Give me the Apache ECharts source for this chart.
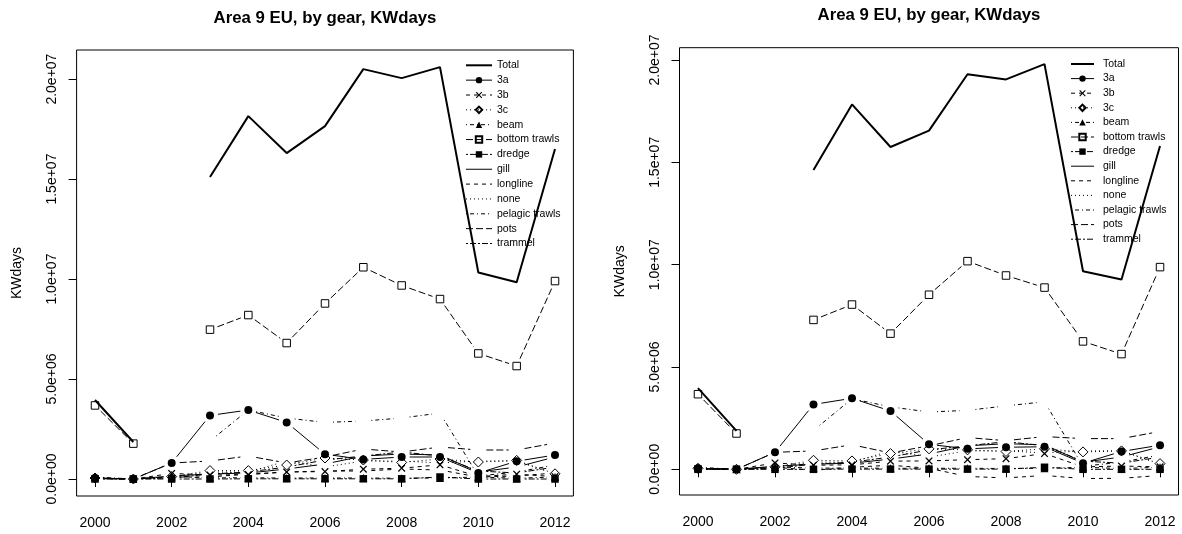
<!DOCTYPE html>
<html><head><meta charset="utf-8">
<script src="https://cdn.jsdelivr.net/npm/echarts@6/dist/echarts.min.js"></script>
<style>html,body{margin:0;padding:0;background:#fff}#c{width:1182px;height:534px}</style>
</head><body><div id="c"></div>
<script>
// ---------------- data ----------------
const years = [2000, 2001, 2002, 2003, 2004, 2005, 2006, 2007, 2008, 2009, 2010, 2011, 2012];
const seriesNames = ["Total", "3a", "3b", "3c", "beam", "bottom trawls", "dredge", "gill", "longline", "none", "pelagic trawls", "pots", "trammel"];
const xTicks = [2000, 2002, 2004, 2006, 2008, 2010, 2012];
const yTicks = [0, 5e6, 1e7, 1.5e7, 2e7];
const yTickLabels = ["0.0e+00", "5.0e+06", "1.0e+07", "1.5e+07", "2.0e+07"];
const titleText = "Area 9 EU, by gear, KWdays";
const yAxisTitle = "KWdays";

// left panel
const L_total    = [3.95e6, 1.85e6, null, 1.51e7, 1.815e7, 1.63e7, 1.765e7, 2.05e7, 2.005e7, 2.06e7, 1.033e7, 9.84e6, 1.65e7];
const L_3a       = [5e4, 0, 8.0e5, 3.18e6, 3.45e6, 2.83e6, 1.24e6, 9.8e5, 1.1e6, 1.1e6, 3.0e5, 8.9e5, 1.2e6];
const L_3b       = [3e4, 0, 2.8e5, 2.0e5, 2.2e5, 3.5e5, 3.7e5, 4.9e5, 5.4e5, 7.1e5, 1.2e5, 2.4e5, 1.2e5];
const L_3c       = [5e4, 0, 1.2e5, 4.2e5, 4.2e5, 7.0e5, 1.05e6, 9.5e5, 8.3e5, 1.0e6, 8.5e5, 9.3e5, 2.6e5];
const L_beam     = [1.0e5, 0, 1.2e5, 6e4, 6e4, 5e4, 5e4, 5e4, 4e4, 5e4, 1.0e5, 4e4, 1.0e5];
const L_bottom   = [3.68e6, 1.77e6, null, 7.47e6, 8.2e6, 6.8e6, 8.78e6, 1.059e7, 9.68e6, 9.0e6, 6.28e6, 5.65e6, 9.9e6];
const L_dredge   = [0, 0, 0, 0, 1e4, 1e4, 1e4, 1e4, 1e4, 1.0e5, 0, 0, 0];
const L_gill     = [2e4, 0, 1.5e5, 2.5e5, 3.0e5, 5.0e5, 7.5e5, 1.15e6, 1.25e6, 1.2e6, 3.5e5, 6.0e5, 1.1e6];
const L_longline = [3e4, 0, 1.0e5, 1.0e5, 2.5e5, 3.5e5, 4.0e5, 4.0e5, 5.0e5, 4.5e5, 1.0e5, 1.5e5, 3.0e5];
const L_none     = [5e4, 0, 1.0e5, 3.5e5, 3.5e5, 9.0e5, 6.0e5, 9.0e5, 9.0e5, 8.0e5, 9.0e5, 9.0e5, 2.5e5];
const L_pelagic  = [null, null, null, 1.9e6, 3.45e6, 3.05e6, 2.83e6, 2.9e6, 3.05e6, 3.3e6, 1.5e5, 3.5e5, 7.0e5];
const L_pots     = [5e4, 0, 8.0e5, 9.0e5, 1.15e6, 8.0e5, 1.1e6, 1.5e6, 1.35e6, 1.6e6, 1.45e6, 1.45e6, 1.8e6];
const L_trammel  = [5e4, 0, 5e4, 2.5e5, 3.5e5, 6.0e5, 9.5e5, 1.15e6, 1.35e6, 1.15e6, 4.0e5, 3.0e5, 6.0e5];

// right panel
const R_total    = [3.97e6, 1.88e6, null, 1.463e7, 1.783e7, 1.575e7, 1.655e7, 1.93e7, 1.905e7, 1.98e7, 9.68e6, 9.27e6, 1.58e7];
const R_3a       = [5e4, 0, 8.3e5, 3.17e6, 3.47e6, 2.85e6, 1.22e6, 1.0e6, 1.08e6, 1.1e6, 3.0e5, 8.7e5, 1.18e6];
const R_3b       = [3e4, 0, 3.1e5, 2.0e5, 2.2e5, 4.0e5, 4.1e5, 4.7e5, 5.2e5, 7.7e5, 1.2e5, 1.6e5, 1.2e5];
const R_3c       = [5e4, 0, 1.2e5, 4.4e5, 4.1e5, 7.7e5, 1.0e6, 9.5e5, 8.7e5, 1.0e6, 8.5e5, 9.0e5, 2.8e5];
const R_beam     = [1.0e5, 0, 1.2e5, 6e4, 6e4, 5e4, 5e4, 5e4, 4e4, 5e4, 1.0e5, 4e4, 1.0e5];
const R_bottom   = [3.67e6, 1.75e6, null, 7.3e6, 8.05e6, 6.63e6, 8.53e6, 1.017e7, 9.47e6, 8.88e6, 6.25e6, 5.63e6, 9.88e6];
const R_dredge   = [0, 0, 0, 0, 1e4, 1e4, 1e4, 1e4, 1e4, 1.0e5, 0, 0, 0];
const R_gill     = [2e4, 0, 1.5e5, 2.5e5, 3.0e5, 5.0e5, 7.5e5, 1.15e6, 1.25e6, 1.2e6, 3.5e5, 6.0e5, 1.1e6];
const R_longline = [3e4, 0, 1.0e5, -5e4, 1.0e5, 2.0e5, 5e4, -3.5e5, -4.2e5, -3.0e5, -4.5e5, -4.4e5, -3.0e5];
const R_none     = [5e4, 0, 1.0e5, 3.5e5, 3.5e5, 9.0e5, 6.0e5, 9.0e5, 9.0e5, 8.0e5, 9.0e5, 9.0e5, 2.5e5];
const R_pelagic  = [null, null, null, 1.9e6, 3.45e6, 3.05e6, 2.8e6, 2.88e6, 3.1e6, 3.3e6, 1.5e5, 3.5e5, 7.0e5];
const R_pots     = [5e4, 0, 8.3e5, 9.0e5, 1.2e6, 8.0e5, 1.15e6, 1.55e6, 1.4e6, 1.6e6, 1.5e6, 1.5e6, 1.85e6];
const R_trammel  = [5e4, 0, 5e4, 2.5e5, 3.5e5, 6.0e5, 9.5e5, 1.15e6, 1.35e6, 1.15e6, 4.0e5, 3.0e5, 6.0e5];

const leftData  = [L_total, L_3a, L_3b, L_3c, L_beam, L_bottom, L_dredge, L_gill, L_longline, L_none, L_pelagic, L_pots, L_trammel];
const rightData = [R_total, R_3a, R_3b, R_3c, R_beam, R_bottom, R_dredge, R_gill, R_longline, R_none, R_pelagic, R_pots, R_trammel];

// ---------------- styles ----------------
const XPATH = 'path://M0,1.2 L1.2,0 L5,3.8 L8.8,0 L10,1.2 L6.2,5 L10,8.8 L8.8,10 L5,6.2 L1.2,10 L0,8.8 L3.8,5 Z';
const DASH = { solid: null, dashed: [4, 4], dotted: [1, 3], dotdash: [1, 3, 4, 3], longdash: [7, 3], twodash: [2, 2, 6, 2] };
const STY = {
  "Total":          { dash: DASH.solid, width: 2, sym: 'none' },
  "3a":             { dash: DASH.solid, sym: 'circle', size: 8, fill: '#000' },
  "3b":             { dash: DASH.dashed, sym: XPATH, size: 7.5, fill: '#000' },
  "3c":             { dash: DASH.dotted, sym: 'diamond', size: 10, fill: 'rgba(0,0,0,0)', open: true },
  "beam":           { dash: DASH.dotdash, sym: 'triangle', size: 8, fill: '#000' },
  "bottom trawls":  { dash: DASH.longdash, sym: 'rect', size: 7.5, fill: 'rgba(0,0,0,0)', open: true },
  "dredge":         { dash: DASH.twodash, sym: 'rect', size: 7.5, fill: '#000' },
  "gill":           { dash: DASH.solid, sym: 'none' },
  "longline":       { dash: DASH.dashed, sym: 'none' },
  "none":           { dash: DASH.dotted, sym: 'none' },
  "pelagic trawls": { dash: DASH.dotdash, sym: 'none' },
  "pots":           { dash: DASH.longdash, sym: 'none' },
  "trammel":        { dash: DASH.twodash, sym: 'none' }
};
const GAP = 8; // R type="b" gap in px
const FONT = 'Liberation Sans, Arial, Helvetica, sans-serif';

const panels = [
  { grid: { left: 76.6, top: 50, width: 496.8, height: 446 }, yMin: -8.5e5, yMax: 2.1456e7, data: leftData,
    legend: { left: 465, top: 59.8, itemWidth: 26, itemGap: 3.85, pad: 0 }, titleX: 325, titleY: 18 },
  { grid: { left: 679.5, top: 47.7, width: 499, height: 447.3 }, yMin: -1.255e6, yMax: 2.06e7, data: rightData,
    legend: { left: 1070, top: 58.5, itemWidth: 23, itemGap: 3.6, pad: 4 }, titleX: 929, titleY: 15.5 }
];

function segRender(dash, width) {
  return function (params, api) {
    const p1 = api.coord([api.value(0), api.value(1)]);
    const p2 = api.coord([api.value(2), api.value(3)]);
    const dx = p2[0] - p1[0], dy = p2[1] - p1[1];
    const len = Math.sqrt(dx * dx + dy * dy);
    if (len <= 2 * GAP) return null;
    const f = GAP / len;
    return { type: 'line', silent: true,
      shape: { x1: p1[0] + f * dx, y1: p1[1] + f * dy, x2: p2[0] - f * dx, y2: p2[1] - f * dy },
      style: { stroke: '#000', lineWidth: width || 1, lineDash: dash, fill: null } };
  };
}
function segments(arr) {
  const out = [];
  for (let i = 0; i < arr.length - 1; i++) {
    if (arr[i] != null && arr[i + 1] != null) out.push([years[i], arr[i], years[i + 1], arr[i + 1]]);
  }
  return out;
}
function yLabel(v) {
  let best = 0;
  for (let i = 0; i < yTicks.length; i++) if (Math.abs(yTicks[i] - v) < Math.abs(yTicks[best] - v)) best = i;
  return yTickLabels[best];
}

const grids = [], xAxes = [], yAxes = [], series = [], legends = [], graphics = [];
panels.forEach((p, k) => {
  grids.push(Object.assign({ show: true, borderColor: '#000', borderWidth: 1, backgroundColor: 'rgba(0,0,0,0)', containLabel: false }, p.grid));
  xAxes.push({ type: 'value', gridIndex: k, min: 1999.52, max: 2012.48,
    axisLine: { show: false }, splitLine: { show: false },
    axisTick: { show: true, length: 8, inside: false, customValues: xTicks, lineStyle: { color: '#000' } },
    axisLabel: { customValues: xTicks, margin: 19.8, color: '#000', fontSize: 14, fontFamily: FONT, formatter: v => String(v) } });
  yAxes.push({ type: 'value', gridIndex: k, min: p.yMin, max: p.yMax,
    name: yAxisTitle, nameLocation: 'middle', nameGap: 52.5, nameRotate: 90,
    nameTextStyle: { color: '#000', fontSize: 14, fontFamily: FONT },
    axisLine: { show: false }, splitLine: { show: false },
    axisTick: { show: true, length: 8, inside: false, customValues: yTicks, lineStyle: { color: '#000' } },
    axisLabel: { customValues: yTicks, rotate: 90, margin: 17.5, color: '#000', fontSize: 14, fontFamily: FONT, formatter: yLabel } });

  seriesNames.forEach((nm, i) => {
    const st = STY[nm];
    if (nm !== 'Total') {
      series.push({ type: 'custom', name: '_seg_' + k + '_' + i, xAxisIndex: k, yAxisIndex: k,
        renderItem: segRender(st.dash, 1), data: segments(p.data[i]),
        encode: { x: [0, 2], y: [1, 3] }, silent: true, animation: false, z: 2 });
    }
    series.push({ type: 'line', name: nm, xAxisIndex: k, yAxisIndex: k,
      data: years.map((y, j) => [y, p.data[i][j]]),
      symbol: st.sym, symbolSize: st.size || 6, showSymbol: st.sym !== 'none', connectNulls: false,
      itemStyle: { color: st.fill || '#000', borderColor: '#000', borderWidth: st.open ? 1 : 0 },
      lineStyle: { color: '#000', width: st.width || 1, type: st.dash || 'solid', opacity: nm === 'Total' ? 1 : 0 },
      emphasis: { disabled: true }, silent: true, animation: false, z: 3 });
  });

  legends.push({ orient: 'vertical', left: p.legend.left, top: p.legend.top, itemWidth: p.legend.itemWidth, itemHeight: 8,
    itemGap: p.legend.itemGap, selectedMode: false, padding: 0,
    textStyle: { color: '#000', fontSize: 10.5, fontFamily: FONT, padding: [0, 0, 0, p.legend.pad] },
    data: seriesNames.map(nm => {
      const st = STY[nm];
      const d = { name: nm, lineStyle: { opacity: 1, width: st.width || 1, type: st.dash || 'solid', color: '#000' } };
      if (st.sym === 'none') d.itemStyle = { opacity: 0 };
      return d;
    }) });

  graphics.push({ type: 'text', x: p.titleX, y: p.titleY,
    style: { text: titleText, fill: '#000', font: 'bold 16.8px ' + FONT, textAlign: 'center', textVerticalAlign: 'middle' } });
});

const chart = echarts.init(document.getElementById('c'), null, { renderer: 'canvas' });
chart.setOption({
  animation: false,
  backgroundColor: '#fff',
  grid: grids, xAxis: xAxes, yAxis: yAxes, series: series, legend: legends,
  graphic: graphics
});
</script>
</body></html>
